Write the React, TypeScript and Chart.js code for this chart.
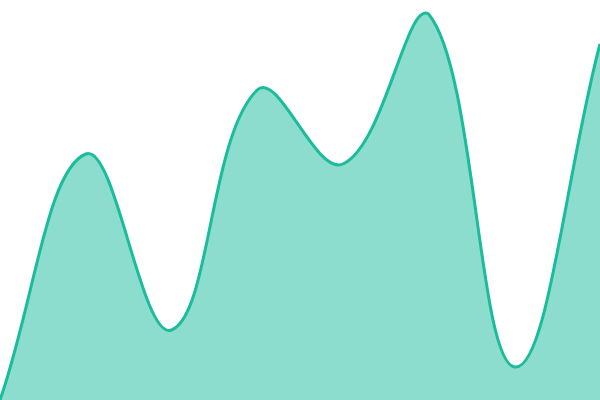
import { useEffect, useRef } from "react";
import Chart from "chart.js/auto";

const labels = ["1", "2", "3", "4", "5", "6", "7", "8"];
const values = [0, 246, 70, 310, 236, 386, 33, 356];

export default function App() {
    const chartRef = useRef<HTMLCanvasElement | null>(null);
    const chartInstanceRef = useRef<Chart | null>(null);

    useEffect(() => {
        if (chartInstanceRef.current) {
            chartInstanceRef.current.destroy();
        }
        if (!chartRef.current) return;
        const ctx = chartRef.current.getContext("2d");
        if (!ctx) return;

        chartInstanceRef.current = new Chart(ctx, {
            type: "line",
            data: {
                labels,
                datasets: [{
                    data: values,
                    borderColor: "#1abc9c",
                    backgroundColor: "rgba(26, 188, 156, 0.5)",
                    borderWidth: 3,
                    fill: true,
                    tension: 0.4,
                    pointRadius: 0,
                }],
            },
            options: {
                animation: false,
                responsive: true,
                maintainAspectRatio: false,
                layout: { padding: 0 },
                plugins: {
                    legend: { display: false },
                    tooltip: { enabled: false },
                },
                scales: {
                    x: { display: false, offset: false },
                    y: { display: false, min: 0, max: 400 },
                },
            },
        });

        return () => {
            if (chartInstanceRef.current) {
                chartInstanceRef.current.destroy();
                chartInstanceRef.current = null;
            }
        };
    }, []);

    return (
        <div style={{ position: "fixed", left: 0, top: 0, width: 600, height: 400 }}>
            <canvas ref={chartRef} />
        </div>
    );
}
